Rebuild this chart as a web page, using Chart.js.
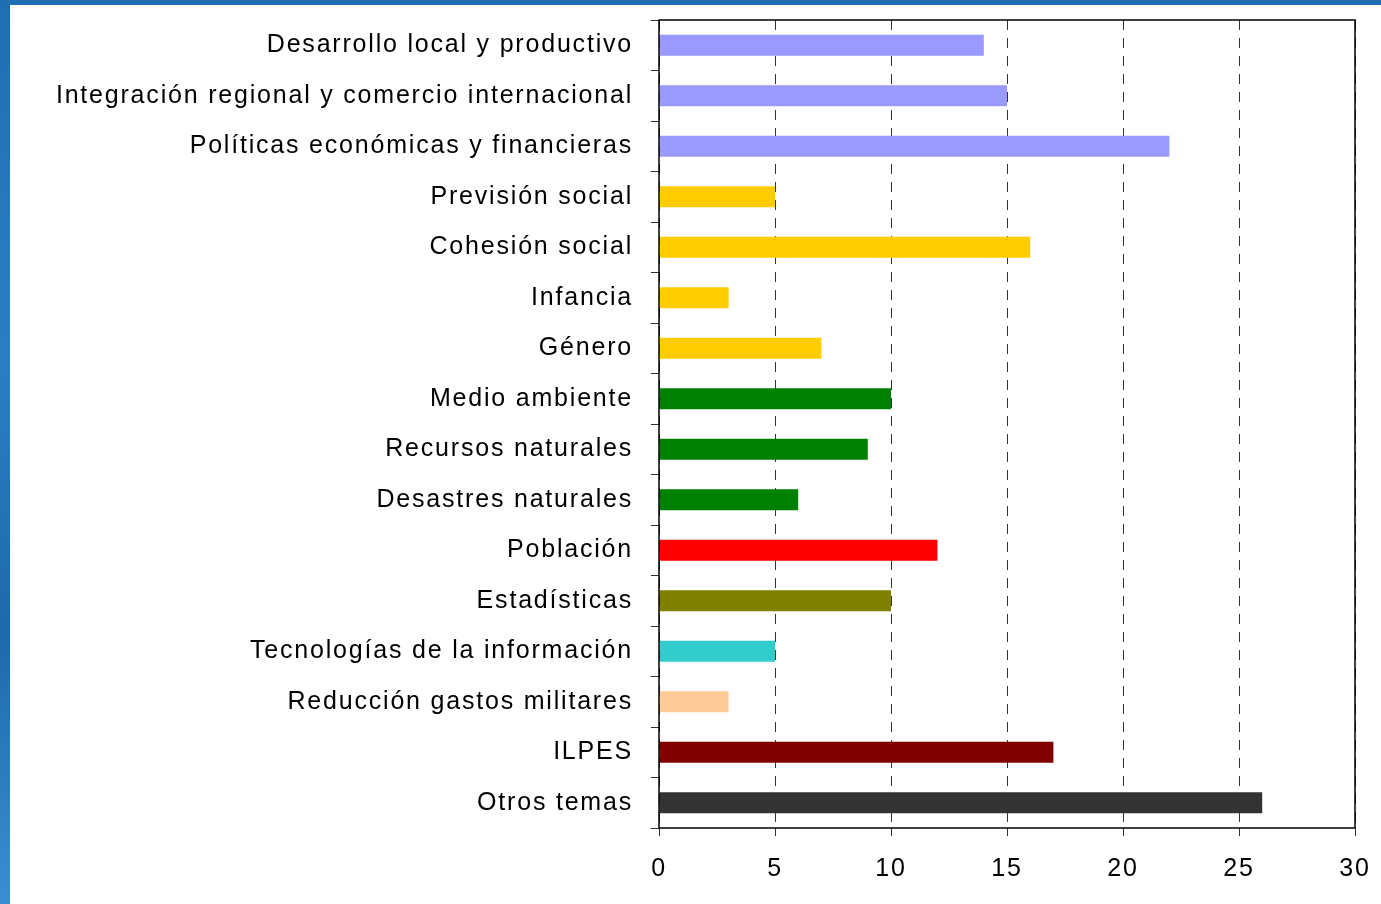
<!DOCTYPE html>
<html>
<head>
<meta charset="utf-8">
<script src="https://cdn.jsdelivr.net/npm/chart.js@4"></script>
<style>
    html, body { margin: 0; padding: 0; }
    body {
        width: 1381px; height: 904px; overflow: hidden;
        background: linear-gradient(180deg, #1f6fb2 0%, #2a7fc2 40%, #1d6aab 70%, #3a8fd0 100%);
        position: relative;
    }
    #panel {
        position: absolute; left: 10px; top: 5px; right: 0; bottom: 0;
        background: #fff;
    }
    #chart { position: absolute; left: 0; top: 0; }
</style>
</head>
<body>
<div id="panel"></div>
<canvas id="chart" width="1381" height="904"></canvas>
<script>
const categories = [
    'Desarrollo local y productivo',
    'Integración regional y comercio internacional',
    'Políticas económicas y financieras',
    'Previsión social',
    'Cohesión social',
    'Infancia',
    'Género',
    'Medio ambiente',
    'Recursos naturales',
    'Desastres naturales',
    'Población',
    'Estadísticas',
    'Tecnologías de la información',
    'Reducción gastos militares',
    'ILPES',
    'Otros temas'
];
const values = [14, 15, 22, 5, 16, 3, 7, 10, 9, 6, 12, 10, 5, 3, 17, 26];
const xTicks = [0, 5, 10, 15, 20, 25, 30];

const barColors = [
    '#9999ff', '#9999ff', '#9999ff',
    '#ffcc00', '#ffcc00', '#ffcc00', '#ffcc00',
    '#008000', '#008000', '#008000',
    '#ff0000', '#808000', '#33cccc', '#ffcc99', '#800000', '#333333'
];

const frame = {
    id: 'frame',
    beforeDraw(chart) {
        chart.ctx.letterSpacing = '1.8px';
    },
    afterDraw(chart) {
        const { ctx, chartArea: a } = chart;
        ctx.save();
        ctx.strokeStyle = '#000';
        ctx.lineWidth = 1.5;
        ctx.strokeRect(a.left, a.top, a.right - a.left, a.bottom - a.top);
        ctx.restore();
    }
};

const font = { family: '"Liberation Sans", Arial, sans-serif', size: 25 };

new Chart(document.querySelector('#chart'), {
    type: 'bar',
    data: {
        labels: categories,
        datasets: [{
            data: values,
            backgroundColor: barColors,
            barPercentage: 0.42,
            categoryPercentage: 1
        }]
    },
    options: {
        indexAxis: 'y',
        responsive: false,
        animation: false,
        layout: { padding: { top: 20, right: 26, left: 0, bottom: 0 } },
        plugins: { legend: { display: false }, tooltip: { enabled: false } },
        scales: {
            x: {
                min: 0,
                max: 30,
                afterBuildTicks(scale) { scale.ticks = xTicks.map(v => ({ value: v })); },
                afterFit(scale) {
                    scale.height = 76;
                    scale.paddingLeft = 0;
                    scale.paddingRight = 0;
                },
                ticks: { color: '#000', font, padding: 18, maxRotation: 0 },
                grid: {
                    color: '#333',
                    lineWidth: 1,
                    tickLength: 8,
                    tickColor: '#333',
                    tickBorderDash: []
                },
                border: { display: false, dash: [10, 8] }
            },
            y: {
                afterFit(scale) {
                    scale.width = 659;
                    scale.paddingTop = 0;
                    scale.paddingBottom = 0;
                },
                ticks: { color: '#000', font, padding: 18 },
                grid: {
                    offset: true,
                    drawOnChartArea: false,
                    tickLength: 8,
                    tickColor: '#333'
                },
                border: { display: false }
            }
        }
    },
    plugins: [frame]
});
</script>
</body>
</html>
